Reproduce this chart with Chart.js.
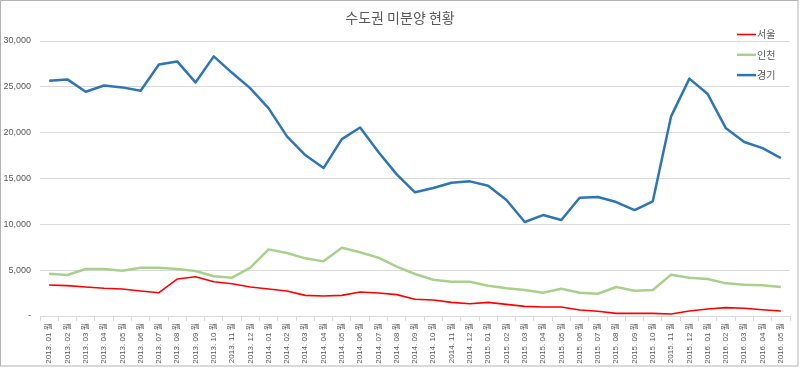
<!DOCTYPE html>
<html>
<head>
<meta charset="utf-8">
<script src="https://cdn.jsdelivr.net/npm/chart.js@4/dist/chart.umd.min.js"></script>
<style>
  html, body { margin: 0; padding: 0; background: #fff; }
  #wrap { width: 800px; height: 369px; position: relative; }
</style>
</head>
<body>
<div id="wrap"><canvas id="unsoldChart"></canvas></div>
<script>
// -------------------- Data --------------------
const chartTitle = '수도권 미분양 현황';

const months = [
  '2013. 01 월', '2013. 02 월', '2013. 03 월', '2013. 04 월', '2013. 05 월', '2013. 06 월',
  '2013. 07 월', '2013. 08 월', '2013. 09 월', '2013. 10 월', '2013. 11 월', '2013. 12 월',
  '2014. 01 월', '2014. 02 월', '2014. 03 월', '2014. 04 월', '2014. 05 월', '2014. 06 월',
  '2014. 07 월', '2014. 08 월', '2014. 09 월', '2014. 10 월', '2014. 11 월', '2014. 12 월',
  '2015. 01 월', '2015. 02 월', '2015. 03 월', '2015. 04 월', '2015. 05 월', '2015. 06 월',
  '2015. 07 월', '2015. 08 월', '2015. 09 월', '2015. 10 월', '2015. 11 월', '2015. 12 월',
  '2016. 01 월', '2016. 02 월', '2016. 03 월', '2016. 04 월', '2016. 05 월'
];

const seoul = [
  3380, 3310, 3160, 3020, 2940, 2730, 2540, 4030, 4290, 3740, 3520, 3160,
  2940, 2730, 2250, 2180, 2250, 2620, 2510, 2330, 1820, 1750, 1490, 1340,
  1490, 1270, 1050, 980, 980, 650, 510, 290, 290, 290, 220, 545,
  760, 910, 840, 690, 545
];

const incheon = [
  4620, 4470, 5130, 5130, 4940, 5270, 5270, 5130, 4910, 4330, 4180, 5270,
  7270, 6870, 6290, 5960, 7450, 6950, 6360, 5380, 4580, 3960, 3740, 3740,
  3300, 3020, 2840, 2540, 2980, 2540, 2430, 3160, 2760, 2840, 4510, 4180,
  4030, 3560, 3420, 3350, 3160
];

const gyeonggi = [
  25660, 25810, 24460, 25150, 24940, 24570, 27440, 27770, 25480, 28320, 26530, 24830,
  22650, 19600, 17560, 16140, 19300, 20570, 17900, 15450, 13490, 13960, 14540, 14690,
  14210, 12650, 10250, 11010, 10470, 12900, 12980, 12430, 11560, 12510, 21780, 25900,
  24210, 20470, 18980, 18320, 17230
];

const yTicks = [0, 5000, 10000, 15000, 20000, 25000, 30000];

// -------------------- Styles --------------------
const textColor = '#595959';
const gridColor = '#d9d9d9';
const baseFont = "'Liberation Sans', 'Noto Sans CJK KR', sans-serif";

// title, legend and outer frame drawn by hand so they sit where Excel put them
const decorPlugin = {
  id: 'decor',
  afterDraw(chart) {
    const ctx = chart.ctx;
    ctx.save();

    ctx.strokeStyle = '#b4b4b4';
    ctx.lineWidth = 1;
    ctx.strokeRect(0.5, 0.5, 797.5, 365.5);

    ctx.fillStyle = textColor;
    ctx.font = "14px 'Noto Sans CJK KR', sans-serif";
    ctx.textAlign = 'center';
    ctx.textBaseline = 'middle';
    ctx.fillText(chartTitle, 400, 18);

    ctx.font = "10px 'Noto Sans CJK KR', sans-serif";
    ctx.textAlign = 'left';
    chart.data.datasets.forEach((ds, i) => {
      const y = 34.5 + i * 20.3;
      ctx.strokeStyle = ds.borderColor;
      ctx.lineWidth = ds.borderWidth;
      ctx.beginPath();
      ctx.moveTo(737, y);
      ctx.lineTo(756, y);
      ctx.stroke();
      ctx.fillStyle = textColor;
      ctx.fillText(ds.label, 757, y);
    });
    ctx.restore();
  }
};

// -------------------- Chart --------------------
const ctx = document.getElementById('unsoldChart');

new Chart(ctx, {
  type: 'line',
  data: {
    labels: months,
    datasets: [
      { label: '서울', data: seoul, borderColor: '#ff0000', borderWidth: 1.6 },
      { label: '인천', data: incheon, borderColor: '#a9d18e', borderWidth: 2.5 },
      { label: '경기', data: gyeonggi, borderColor: '#2e75b6', borderWidth: 2.5 }
    ].map(ds => ({ ...ds, pointRadius: 0, tension: 0, fill: false, borderJoinStyle: 'round' }))
  },
  options: {
    responsive: true,
    maintainAspectRatio: false,
    animation: false,
    layout: { padding: { top: 41, right: 10, left: 0, bottom: 0 } },
    plugins: {
      legend: { display: false },
      title: { display: false },
      tooltip: { enabled: false }
    },
    scales: {
      x: {
        offset: true,
        afterFit: scale => { scale.height = 53; },
        grid: {
          offset: true,
          drawOnChartArea: false,
          color: gridColor,
          tickLength: 5
        },
        border: { color: gridColor },
        ticks: {
          color: textColor,
          font: { family: baseFont, size: 8 },
          minRotation: 90,
          maxRotation: 90,
          autoSkip: false,
          padding: 2
        }
      },
      y: {
        min: 0,
        max: 30000,
        afterFit: scale => { scale.width = 40; },
        afterBuildTicks: scale => { scale.ticks = yTicks.map(v => ({ value: v })); },
        grid: { color: gridColor, drawTicks: false },
        border: { display: false },
        ticks: {
          color: textColor,
          font: { family: baseFont, size: 9 },
          padding: 9,
          callback: v => v === 0 ? '-' : v.toLocaleString('en-US')
        }
      }
    }
  },
  plugins: [decorPlugin]
});
</script>
</body>
</html>
